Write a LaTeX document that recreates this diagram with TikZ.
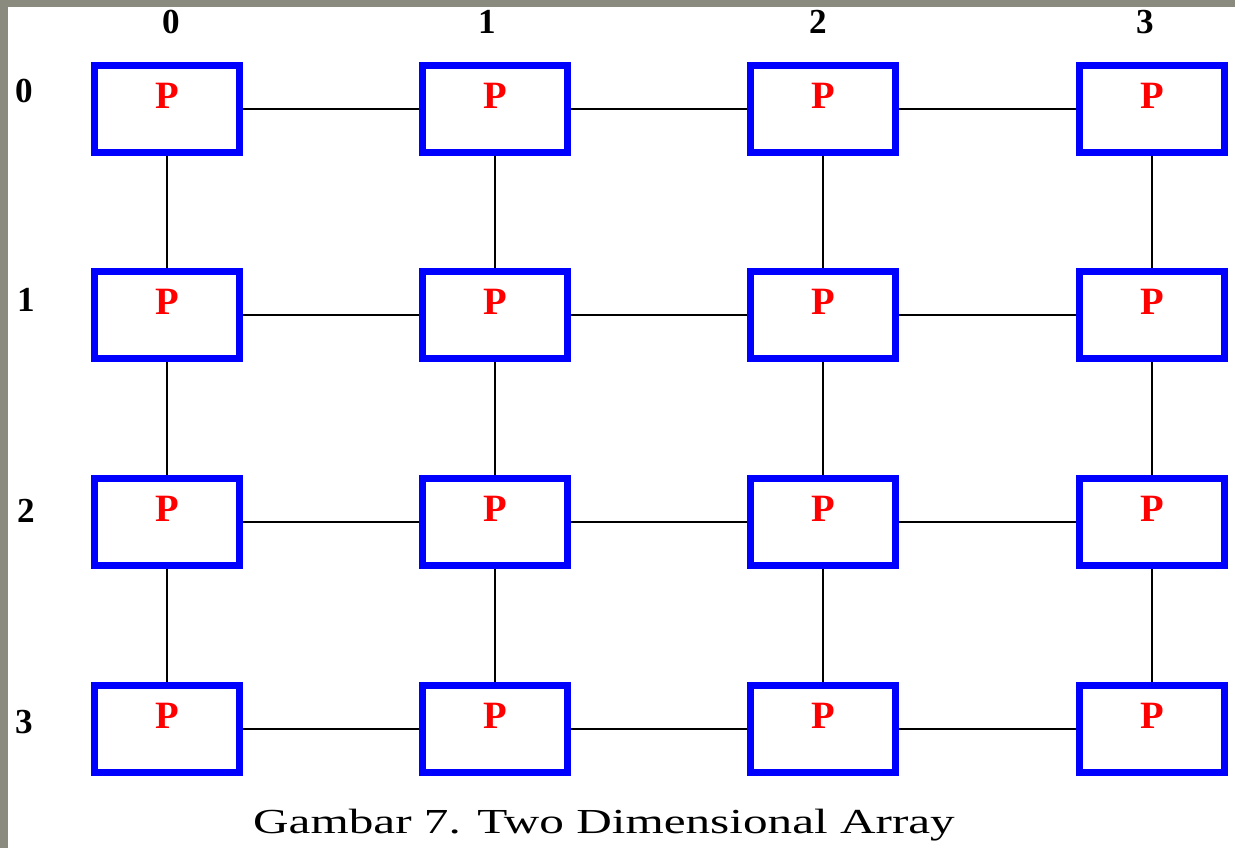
\documentclass[tikz,border=0pt]{standalone}
\usepackage{fontspec}
\setmainfont{Liberation Serif}
\usetikzlibrary{positioning}
\definecolor{framegray}{RGB}{138,139,126}
\definecolor{pblue}{RGB}{0,0,255}
\definecolor{pred}{RGB}{255,0,0}

\begin{document}
\begin{tikzpicture}[
    proc/.style={draw=pblue, line width=4pt, fill=white, minimum width=2.9cm, minimum height=1.74cm, inner sep=0pt,
        label={[anchor=north, yshift=-0.3cm, text=pred, font=\fontsize{22}{24}\selectfont\bfseries]north:P}},
    idx/.style={font=\fontsize{20}{22}\selectfont\bfseries},
    link/.style={line width=1.4pt, black},
]
    % === BACKGROUND ===
    \fill[framegray] (0,0) rectangle (24.7,-16.96);
    \fill[white] (0.16,-0.14) rectangle (24.7,-16.96);
    \useasboundingbox (0,0) rectangle (24.7,-16.96);

    % === INDEX LABELS ===
    \node[idx] (c0) at (3.42,-0.44) {0};
    \node[idx] (c1) at (9.74,-0.44) {1};
    \node[idx] (c2) at (16.36,-0.44) {2};
    \node[idx] (c3) at (22.9,-0.44) {3};
    \node[idx] (r0) at (0.48,-1.82) {0};
    \node[idx] (r1) at (0.52,-6.0) {1};
    \node[idx] (r2) at (0.52,-10.22) {2};
    \node[idx] (r3) at (0.48,-14.44) {3};

    % === PROCESSORS ===
    \node[proc] (p00) at (3.34,-2.18) {};
    \node[proc] (p01) at (9.90,-2.18) {};
    \node[proc] (p02) at (16.46,-2.18) {};
    \node[proc] (p03) at (23.04,-2.18) {};
    \node[proc] (p10) at (3.34,-6.30) {};
    \node[proc] (p11) at (9.90,-6.30) {};
    \node[proc] (p12) at (16.46,-6.30) {};
    \node[proc] (p13) at (23.04,-6.30) {};
    \node[proc] (p20) at (3.34,-10.44) {};
    \node[proc] (p21) at (9.90,-10.44) {};
    \node[proc] (p22) at (16.46,-10.44) {};
    \node[proc] (p23) at (23.04,-10.44) {};
    \node[proc] (p30) at (3.34,-14.58) {};
    \node[proc] (p31) at (9.90,-14.58) {};
    \node[proc] (p32) at (16.46,-14.58) {};
    \node[proc] (p33) at (23.04,-14.58) {};

    % === ROW LINKS ===
    \draw[link] (p00) -- (p01);
    \draw[link] (p01) -- (p02);
    \draw[link] (p02) -- (p03);
    \draw[link] (p10) -- (p11);
    \draw[link] (p11) -- (p12);
    \draw[link] (p12) -- (p13);
    \draw[link] (p20) -- (p21);
    \draw[link] (p21) -- (p22);
    \draw[link] (p22) -- (p23);
    \draw[link] (p30) -- (p31);
    \draw[link] (p31) -- (p32);
    \draw[link] (p32) -- (p33);

    % === COLUMN LINKS ===
    \draw[link] (p00) -- (p10);
    \draw[link] (p10) -- (p20);
    \draw[link] (p20) -- (p30);
    \draw[link] (p01) -- (p11);
    \draw[link] (p11) -- (p21);
    \draw[link] (p21) -- (p31);
    \draw[link] (p02) -- (p12);
    \draw[link] (p12) -- (p22);
    \draw[link] (p22) -- (p32);
    \draw[link] (p03) -- (p13);
    \draw[link] (p13) -- (p23);
    \draw[link] (p23) -- (p33);

    % === CAPTION ===
    \node (caption) at (12.08,-16.5) {\fontsize{20}{22}\selectfont\scalebox{1.4}[1]{Gambar 7. Two Dimensional Array}};
\end{tikzpicture}
\end{document}
